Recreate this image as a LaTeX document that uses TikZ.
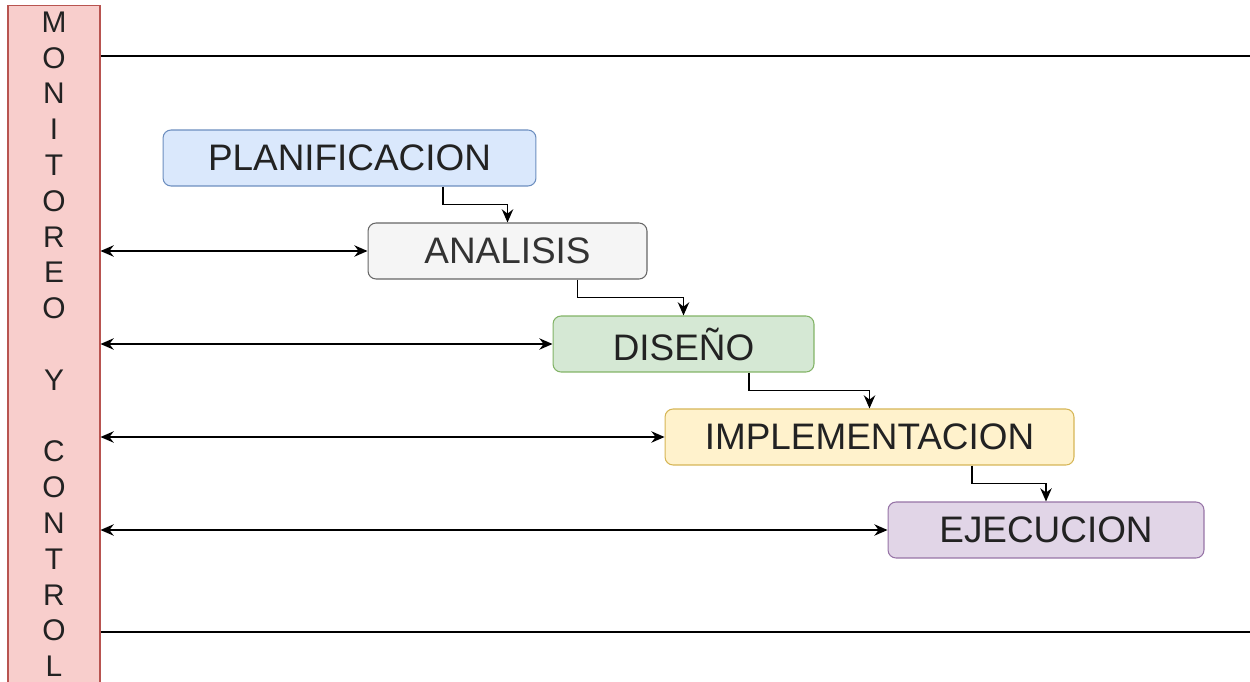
\documentclass[tikz,border=0pt]{standalone}
\usepackage{fontspec}
\setmainfont{Liberation Sans}
\usetikzlibrary{calc,arrows.meta}

\definecolor{barfill}{HTML}{F8CECC}
\definecolor{barline}{HTML}{B85450}
\definecolor{planfill}{HTML}{DAE8FC}
\definecolor{planline}{HTML}{6C8EBF}
\definecolor{analfill}{HTML}{F5F5F5}
\definecolor{analline}{HTML}{666666}
\definecolor{disfill}{HTML}{D5E8D4}
\definecolor{disline}{HTML}{82B366}
\definecolor{implfill}{HTML}{FFF2CC}
\definecolor{implline}{HTML}{D6B656}
\definecolor{ejecfill}{HTML}{E1D5E7}
\definecolor{ejecline}{HTML}{9673A6}
\definecolor{txt}{HTML}{222222}

\tikzset{
  phase/.style={draw, rounded corners=0.16cm, minimum height=1.12cm, line width=0.6pt,
    text=txt, font=\fontsize{21}{25}\selectfont, inner sep=0pt},
  flow/.style={-{Stealth[length=7.5pt,width=6.5pt]}, line width=0.8pt},
  both/.style={{Stealth[length=7.5pt,width=6.5pt]}-{Stealth[length=7.5pt,width=6.5pt]}, line width=0.8pt},
  letter/.style={text=txt, font=\fontsize{17}{20}\selectfont, inner sep=0pt},
}

\begin{document}
\begin{tikzpicture}[x=0.02cm, y=-0.02cm]
  \useasboundingbox (0,0) rectangle (1250,682);

  % side bar
  \node[draw=barline, fill=barfill, line width=0.6pt, minimum width=1.84cm, minimum height=13.7cm, inner sep=0pt] (bar) at (54,347.5) {};
  \foreach \ch [count=\i] in {M,O,N,I,T,O,R,E,O,{},Y,{},C,O,N,T,R,O,L}
    \node[letter] (l\i) at (54, {22+(\i-1)*35.8}) {\ch};

  % horizontal rules
  \coordinate (topend) at (1250,56);
  \coordinate (botend) at (1250,632);
  \draw[line width=0.8pt] (bar.east |- topend) -- (topend);
  \draw[line width=0.8pt] (bar.east |- botend) -- (botend);

  % phases
  \node[phase, fill=planfill, draw=planline, minimum width=7.46cm] (plan) at (349.5,158) {PLANIFICACION};
  \node[phase, fill=analfill, draw=analline, minimum width=5.58cm, text=black!80] (anal) at (507.5,251) {ANALISIS};
  \node[phase, fill=disfill, draw=disline, minimum width=5.22cm] (dis) at (683.5,344) {DISEÑO};
  \node[phase, fill=implfill, draw=implline, minimum width=8.18cm] (impl) at (869.5,437) {IMPLEMENTACION};
  \node[phase, fill=ejecfill, draw=ejecline, minimum width=6.32cm] (ejec) at (1046,530) {EJECUCION};

  % elbow connectors
  \foreach \a/\b in {plan/anal, anal/dis, dis/impl, impl/ejec} {
    \coordinate (\a-out) at ($(\a.south west)!0.75!(\a.south east)$);
    \draw[flow] (\a-out) |- ($(\a-out)!0.5!(\b.north)$) -| (\b.north);
  }

  % links to monitoring
  \foreach \b in {anal, dis, impl, ejec}
    \draw[both] (bar.east |- \b.west) -- (\b.west);
\end{tikzpicture}
\end{document}
